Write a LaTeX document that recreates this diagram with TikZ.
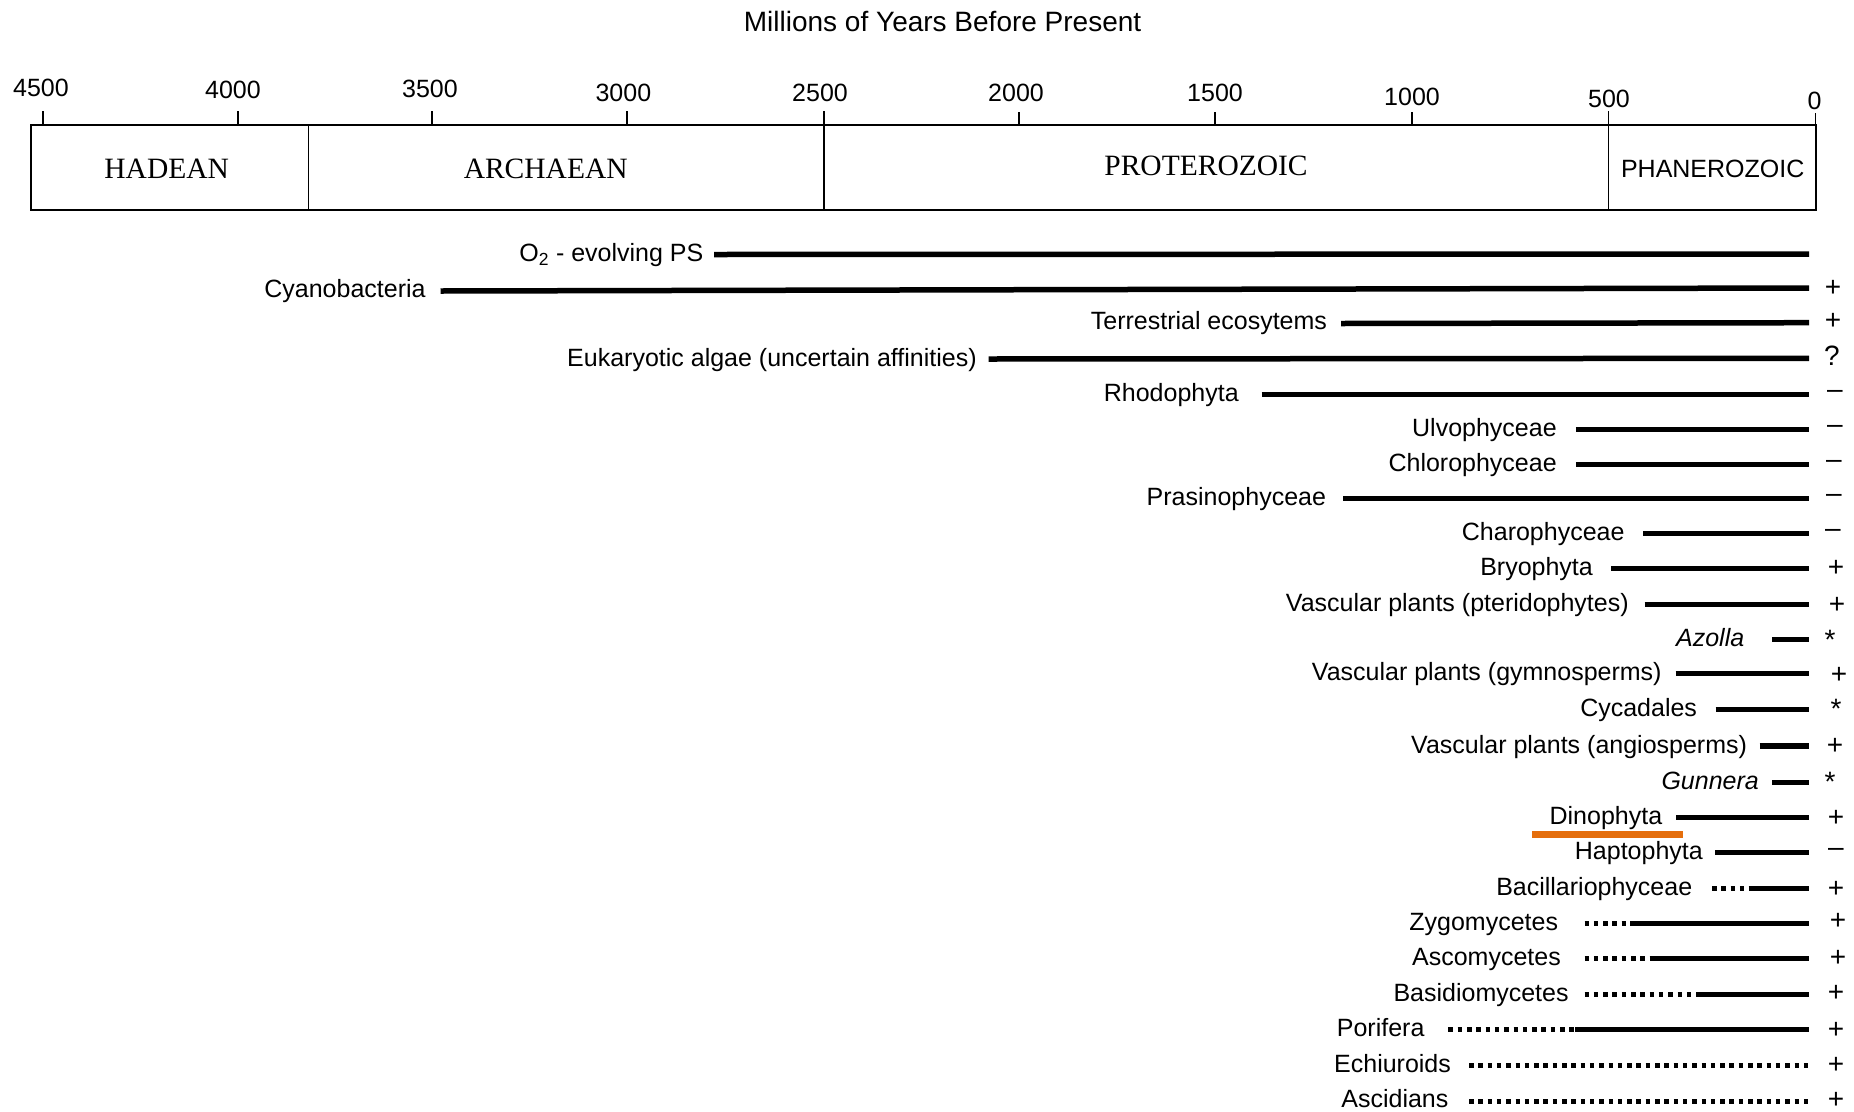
\documentclass[tikz,border=0pt]{standalone}
\usepackage{fontspec}
\setmainfont{Liberation Sans}
\newfontfamily\erafont{Liberation Serif}
\usepackage{tikz}
\definecolor{markcolor}{RGB}{229,110,12}

\begin{document}
\begin{tikzpicture}[x=1bp,y=-1bp,inner sep=0pt,outer sep=0pt,
  lbl/.style={anchor=base east,yshift=-7bp,font=\fontsize{25bp}{30bp}\selectfont},
  yr/.style={anchor=base,font=\fontsize{25bp}{30bp}\selectfont},
  era/.style={anchor=base,font=\erafont\fontsize{29.5bp}{35bp}\selectfont},
  sym/.style={anchor=center,font=\fontsize{28bp}{33bp}\selectfont},
  bar/.style={line width=5.5bp},
  dotbar/.style={line width=5.5bp,dash pattern=on 4.5bp off 4.8bp},
  eraframe/.style={line width=2bp},
  axistick/.style={line width=1.6bp}]
  \useasboundingbox (0,0) rectangle (1854,1111);
  \node[anchor=base,font=\fontsize{28bp}{33bp}\selectfont] (title) at (942.6,31.7) {Millions of Years Before Present};
  \draw[eraframe] (30.7,125) rectangle (1815.5,210);
  \draw[axistick] (308.6,125) -- (308.6,210);
  \draw[axistick] (824,111) -- (824,210);
  \draw[axistick] (1608.5,111) -- (1608.5,210);
  \draw[axistick] (42.7,111) -- (42.7,125);
  \draw[axistick] (238,111) -- (238,125);
  \draw[axistick] (432,111) -- (432,125);
  \draw[axistick] (627,111) -- (627,125);
  \draw[axistick] (1019,112) -- (1019,125);
  \draw[axistick] (1215,112) -- (1215,125);
  \draw[axistick] (1412,112) -- (1412,125);
  \draw[axistick] (1815.5,113) -- (1815.5,125);
  \node[yr] (y4500) at (41,96.7) {4500};
  \node[yr] (y4000) at (233,98.3) {4000};
  \node[yr] (y3500) at (430,97.3) {3500};
  \node[yr] (y3000) at (623.4,101.7) {3000};
  \node[yr] (y2500) at (820,101.7) {2500};
  \node[yr] (y2000) at (1016,101.7) {2000};
  \node[yr] (y1500) at (1215,101.7) {1500};
  \node[yr] (y1000) at (1412,105) {1000};
  \node[yr] (y500) at (1609,107.3) {500};
  \node[yr] (y0) at (1814.6,109.3) {0};
  \node[era] (hadean) at (166.7,178.3) {HADEAN};
  \node[era] (archaean) at (545.7,178) {ARCHAEAN};
  \node[era] (proterozoic) at (1206,175) {PROTEROZOIC};
  \node[anchor=base,font=\fontsize{25bp}{30bp}\selectfont] (phanerozoic) at (1712.7,177.3) {PHANEROZOIC};
  \node[lbl] (o2) at (703.3,254.5) {O\textsubscript{2} - evolving PS};
  \draw[bar] (714,254.5) -- (1809,254);
  \node[lbl] (cyano) at (425.6,290) {Cyanobacteria};
  \draw[bar] (440.5,291) -- (1809,288);
  \node[sym] (s-cyano) at (1833,288.3) {+};
  \node[lbl] (terr) at (1327,322.7) {Terrestrial ecosytems};
  \draw[bar] (1341,323.5) -- (1809,322.7);
  \node[sym] (s-terr) at (1833,321.5) {+};
  \node[lbl] (euk) at (976.7,359) {Eukaryotic algae (uncertain affinities)};
  \draw[bar] (988.5,359) -- (1809,358.3);
  \node[sym] (s-euk) at (1832,356) {?};
  \node[lbl] (rhodo) at (1238.7,394.3) {Rhodophyta};
  \draw[bar] (1261.5,394.3) -- (1809,394.3);
  \node[sym] (s-rhodo) at (1835,394.3) {–};
  \node[lbl] (ulvo) at (1556.7,429.3) {Ulvophyceae};
  \draw[bar] (1575.8,429.3) -- (1809,429.3);
  \node[sym] (s-ulvo) at (1835,429.3) {–};
  \node[lbl] (chloro) at (1556.7,464.3) {Chlorophyceae};
  \draw[bar] (1575.8,464.3) -- (1809,464.3);
  \node[sym] (s-chloro) at (1834,464.3) {–};
  \node[lbl] (prasino) at (1326,498.3) {Prasinophyceae};
  \draw[bar] (1343,498.3) -- (1809,498.3);
  \node[sym] (s-prasino) at (1834,498.3) {–};
  \node[lbl] (charo) at (1624.5,533.3) {Charophyceae};
  \draw[bar] (1643,533.3) -- (1809,533.3);
  \node[sym] (s-charo) at (1833,533.3) {–};
  \node[lbl] (bryo) at (1592.8,568.3) {Bryophyta};
  \draw[bar] (1611,568.3) -- (1809,568.3);
  \node[sym] (s-bryo) at (1836,568.3) {+};
  \node[lbl] (pterido) at (1628.7,604.3) {Vascular plants (pteridophytes)};
  \draw[bar] (1644.5,604.3) -- (1809,604.3);
  \node[sym] (s-pterido) at (1837,605) {+};
  \node[lbl] (azolla) at (1744.2,639.5) {\itshape Azolla};
  \draw[bar] (1772,639.5) -- (1809,639.5);
  \node[sym] (s-azolla) at (1830,639.5) {*};
  \node[lbl] (gymno) at (1661.6,673.3) {Vascular plants (gymnosperms)};
  \draw[bar] (1675.5,673.3) -- (1809,673.3);
  \node[sym] (s-gymno) at (1839,675) {+};
  \node[lbl] (cycad) at (1697,709.3) {Cycadales};
  \draw[bar] (1715.5,709.3) -- (1809,709.3);
  \node[sym] (s-cycad) at (1836,709.3) {*};
  \node[lbl] (angio) at (1747,746) {Vascular plants (angiosperms)};
  \draw[bar] (1759.5,746) -- (1809,746);
  \node[sym] (s-angio) at (1835,746) {+};
  \node[lbl] (gunnera) at (1758.8,782.3) {\itshape Gunnera};
  \draw[bar] (1772,782.3) -- (1809,782.3);
  \node[sym] (s-gunnera) at (1830,782.3) {*};
  \node[lbl] (dino) at (1662.2,817.3) {Dinophyta};
  \draw[bar] (1676,817.3) -- (1809,817.3);
  \node[sym] (s-dino) at (1836,818.5) {+};
  \fill[markcolor] (1532,831) rectangle (1683,837.5);
  \node[lbl] (hapto) at (1702.8,852.3) {Haptophyta};
  \draw[bar] (1715,852.3) -- (1809,852.3);
  \node[sym] (s-hapto) at (1836,852.3) {–};
  \node[lbl] (bacill) at (1692.2,888.3) {Bacillariophyceae};
  \draw[dotbar] (1712,888.3) -- (1748.5,888.3);
  \draw[bar] (1748.5,888.3) -- (1809,888.3);
  \node[sym] (s-bacill) at (1836,889.5) {+};
  \node[lbl] (zygo) at (1558,923.3) {Zygomycetes};
  \draw[dotbar] (1584.5,923.3) -- (1630.4,923.3);
  \draw[bar] (1630.4,923.3) -- (1809,923.3);
  \node[sym] (s-zygo) at (1838,921) {+};
  \node[lbl] (asco) at (1560.8,958.3) {Ascomycetes};
  \draw[dotbar] (1584.5,958.3) -- (1651.6,958.3);
  \draw[bar] (1651.6,958.3) -- (1809,958.3);
  \node[sym] (s-asco) at (1838,958.3) {+};
  \node[lbl] (basidio) at (1568.6,994.3) {Basidiomycetes};
  \draw[dotbar] (1584.5,994.3) -- (1699.3,994.3);
  \draw[bar] (1699.3,994.3) -- (1809,994.3);
  \node[sym] (s-basidio) at (1836,993) {+};
  \node[lbl] (porif) at (1424.4,1029.3) {Porifera};
  \draw[dotbar] (1448.4,1029.3) -- (1575,1029.3);
  \draw[bar] (1575,1029.3) -- (1809,1029.3);
  \node[sym] (s-porif) at (1836,1030.5) {+};
  \node[lbl] (echiur) at (1450.9,1065.7) {Echiuroids};
  \draw[dotbar] (1469,1065.7) -- (1809,1065.7);
  \node[sym] (s-echiur) at (1836,1065.7) {+};
  \node[lbl] (ascid) at (1448.4,1100.5) {Ascidians};
  \draw[dotbar] (1469,1101.7) -- (1809,1101.7);
  \node[sym] (s-ascid) at (1836,1100) {+};
\end{tikzpicture}
\end{document}
